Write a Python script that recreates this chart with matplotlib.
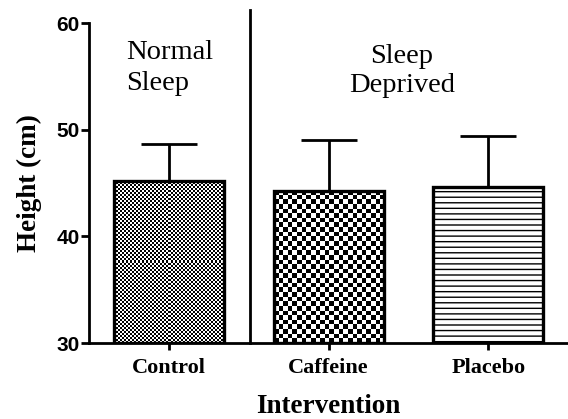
import numpy as np
import matplotlib
matplotlib.use("Agg")
import matplotlib.pyplot as plt

groups = ["Control", "Caffeine", "Placebo"]
means = [45.2, 44.25, 44.6]
errs = [3.45, 4.8, 4.8]
yticks = [30, 40, 50, 60]

fig = plt.figure(figsize=(5.68, 4.19), dpi=100)
ax = fig.add_axes([0.157, 0.181, 0.843, 0.764])
ax.set_xlim(-0.5, 2.5)
ax.set_ylim(30, 60)

x = np.arange(len(groups))
bars = ax.bar(x, [m - 30 for m in means], bottom=30, width=0.69,
              facecolor="none", edgecolor="black", linewidth=2.4, zorder=3)
ax.errorbar(x, means, yerr=[[0] * 3, errs], fmt="none", ecolor="black",
            elinewidth=2, capsize=20, capthick=2, zorder=2)

# textures: fine checker, coarse checker, horizontal lines
def checker(bar, cell_px):
    x0, y0 = bar.get_x(), bar.get_y()
    x1, y1 = x0 + bar.get_width(), y0 + bar.get_height()
    p0 = ax.transData.transform((x0, y0))
    p1 = ax.transData.transform((x1, y1))
    nx = int(round((p1[0] - p0[0]) / cell_px))
    ny = int(round((p1[1] - p0[1]) / cell_px))
    ii, jj = np.indices((ny, nx))
    img = ((ii + jj) % 2).astype(float)
    im = ax.imshow(img, cmap="gray", extent=(x0, x1, y0, y1), aspect="auto",
                   interpolation="nearest", zorder=2.5)
    im.set_clip_path(bar)

fig.canvas.draw()
checker(bars[0], 2.0)
checker(bars[1], 4.6)
bars[2].set_hatch("---")
ax.set_xlim(-0.5, 2.5)
ax.set_ylim(30, 60)

ax.axvline(0.51, ymin=0, ymax=1.04, color="black", lw=2, clip_on=False)

for s in ["top", "right"]:
    ax.spines[s].set_visible(False)
for s in ["left", "bottom"]:
    ax.spines[s].set_linewidth(2)

ax.set_yticks(yticks)
ax.set_yticklabels([str(t) for t in yticks], fontfamily="Liberation Sans",
                   fontweight="bold", fontsize=15)
ax.set_xticks(x)
ax.set_xticklabels(groups, fontfamily="Liberation Serif", fontweight="bold",
                   fontsize=16)
ax.tick_params(axis="y", length=6, width=2, pad=1)
ax.tick_params(axis="x", length=5, width=2, pad=5.5)

ax.set_ylabel("Height (cm)", fontfamily="Liberation Serif", fontweight="bold",
              fontsize=19.5, labelpad=10)
ax.set_xlabel("Intervention", fontfamily="Liberation Serif", fontweight="bold",
              fontsize=19.5, labelpad=12)

ax.text(-0.27, 58.4, "Normal\nSleep", fontfamily="Liberation Serif",
        fontsize=20.5, ha="left", va="top", linespacing=1.33)
ax.text(1.46, 58.0, "Sleep\nDeprived", fontfamily="Liberation Serif",
        fontsize=20.5, ha="center", va="top", linespacing=1.2)

fig.savefig("out.png", dpi=100)
